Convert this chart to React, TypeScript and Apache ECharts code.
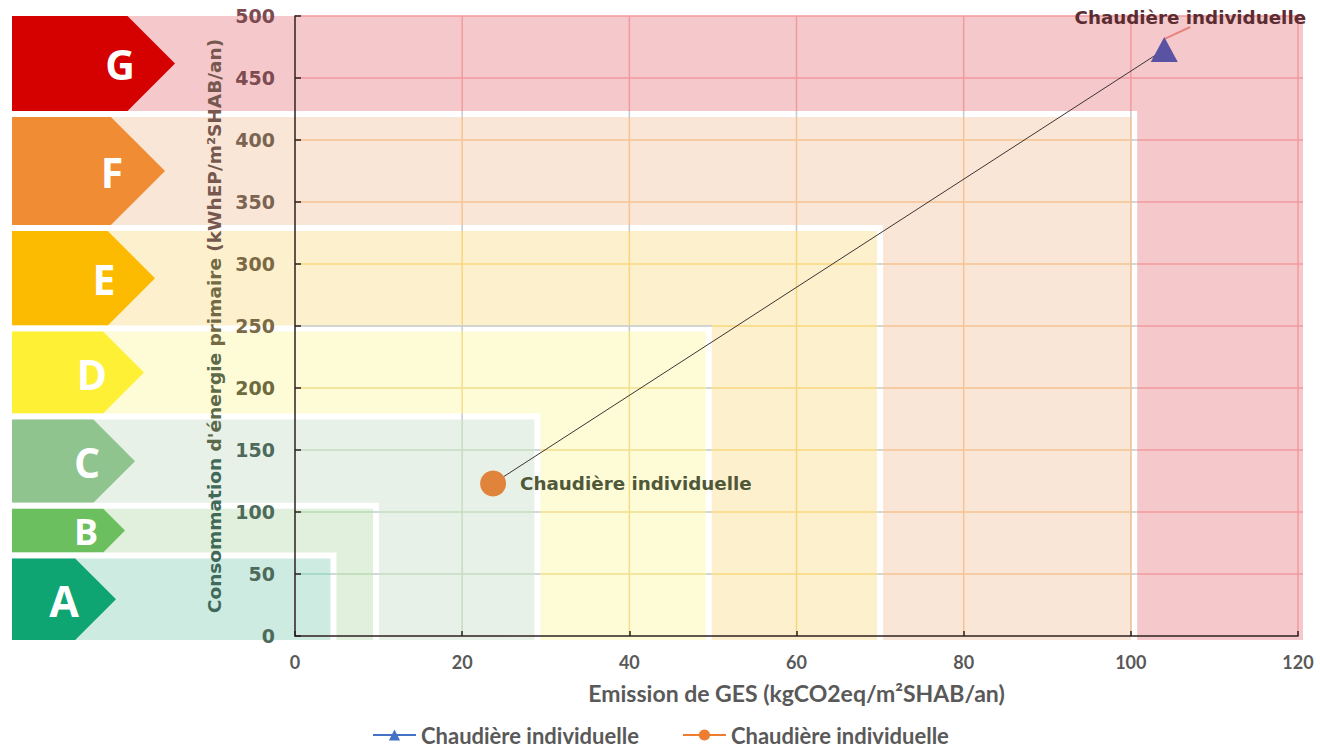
import React, { useEffect, useRef } from 'react';
import * as echarts from 'echarts';

// Energy classes, from the outermost (G) to the innermost (A)
const classLetters = ['G', 'F', 'E', 'D', 'C', 'B', 'A'];
// Upper bound of each class on the GES axis (kgCO2eq/m²SHAB/an)
const classGesMax = [120, 100.4, 70, 49.5, 29, 9.7, 4.6];
// Upper bound of each class on the energy axis (kWhEP/m²SHAB/an)
const classEnergyMax = [500, 421, 329, 248, 177, 105, 65];

const gesTicks = [0, 20, 40, 60, 80, 100, 120];
const energyTicks = [0, 50, 100, 150, 200, 250, 300, 350, 400, 450, 500];

const seriesNames = ['Chaudière individuelle', 'Chaudière individuelle'];
const pointGes = [104, 23.7];
const pointEnergy = [473, 123];

// Styling of the class bands
const arrowColors = ['#d50000', '#f08c34', '#fcbb00', '#fef035', '#8fc48e', '#6bbf5f', '#0fa572'];
const bandColors = ['#f5c9cb', '#fae6d6', '#fdf0cc', '#fefbd7', '#e8f1e7', '#e0f0dc', '#cdebe1'];
const gridColors = ['#f29a9e', '#f6c392', '#f7d77e', '#f1df8c', '#c6dcc2', '#b8dbb0', '#9ad5c2'];
const arrowTipPx = [175, 165, 155, 144, 135, 125, 116];
const letterXPx = [120, 112, 104, 92, 87, 86, 64];
const letterSize = [41, 41, 41, 41, 41, 36, 43];

const LEFT_PX = 12;
const BORDER = 3;
const OUTER_EXTRA = 5;
const BOTTOM_EXTRA = 4;
const BORDER_GRID = '#c3cacd';

const labelColorFor = (v: number) => {
  if (v >= 422) return '#7d4b51';
  if (v >= 329) return '#7b6452';
  if (v >= 248) return '#7b6946';
  if (v >= 177) return '#6c6a3e';
  return '#4d6a5b';
};

const hline = (x1: number, x2: number, y: number, stroke: string) => ({
  type: 'line',
  shape: { x1, y1: y, x2, y2: y },
  style: { stroke, lineWidth: 1.5 },
});
const vline = (x: number, y1: number, y2: number, stroke: string) => ({
  type: 'line',
  shape: { x1: x, y1, x2: x, y2 },
  style: { stroke, lineWidth: 1.5 },
});

const renderBand = (params: any, api: any) => {
  const i = params.dataIndex;
  const origin = api.coord([gesTicks[0], energyTicks[0]]);
  const x0 = origin[0];
  const y0 = origin[1];
  const right = api.coord([api.value(0), 0])[0];
  const top = api.coord([0, api.value(1)])[1];
  const outer = i === 0;
  const fillRight = outer ? right + OUTER_EXTRA : right - BORDER;
  const fillTop = outer ? top : top + BORDER;
  const bottom = y0 + BOTTOM_EXTRA;
  const bandBottom =
    i < classLetters.length - 1 ? api.coord([0, classEnergyMax[i + 1]])[1] - BORDER : bottom;

  const children: any[] = [];
  let z = i * 200;
  const add = (el: any) => {
    el.z2 = z++;
    children.push(el);
  };

  if (!outer) {
    add({
      type: 'rect',
      shape: { x: LEFT_PX, y: top - BORDER, width: right + BORDER - LEFT_PX, height: bottom - top + BORDER },
      style: { fill: '#ffffff' },
    });
    energyTicks.forEach((v) => {
      if (v === energyTicks[0]) return;
      const y = api.coord([0, v])[1];
      if (y >= top - BORDER - 0.5 && y < y0) add(hline(x0, right + BORDER, y, BORDER_GRID));
    });
    gesTicks.forEach((v) => {
      if (v === gesTicks[0]) return;
      const x = api.coord([v, 0])[0];
      if (x <= right + BORDER + 0.5) add(vline(x, top - BORDER, y0, BORDER_GRID));
    });
  }

  add({
    type: 'rect',
    shape: { x: LEFT_PX, y: fillTop, width: fillRight - LEFT_PX, height: bottom - fillTop },
    style: { fill: bandColors[i] },
  });
  energyTicks.forEach((v) => {
    if (v === energyTicks[0]) return;
    const y = api.coord([0, v])[1];
    if (y >= fillTop - 0.5 && y < y0) add(hline(x0, fillRight, y, gridColors[i]));
  });
  gesTicks.forEach((v) => {
    if (v === gesTicks[0]) return;
    const x = api.coord([v, 0])[0];
    if (x <= fillRight + 0.5) add(vline(x, fillTop, y0, gridColors[i]));
  });

  const h = bandBottom - fillTop;
  const mid = (fillTop + bandBottom) / 2;
  const tip = arrowTipPx[i];
  const rectEnd = tip - h / 2;
  add({
    type: 'polygon',
    shape: {
      points: [
        [LEFT_PX, fillTop],
        [rectEnd, fillTop],
        [tip, mid],
        [rectEnd, bandBottom],
        [LEFT_PX, bandBottom],
      ],
    },
    style: { fill: arrowColors[i] },
  });
  add({
    type: 'text',
    x: letterXPx[i],
    y: mid + 1,
    style: {
      text: classLetters[i],
      fill: '#ffffff',
      fontSize: letterSize[i],
      fontWeight: 'bold',
      fontFamily: '"Open Sans", sans-serif',
      align: 'center',
      verticalAlign: 'middle',
    },
  });

  return { type: 'group', children };
};

const nameFont = {
  fontFamily: '"DejaVu Sans", sans-serif',
  fontWeight: 'bold' as const,
  fontSize: 18.5,
};

export default function App() {
  const ref = useRef<HTMLDivElement>(null);

  useEffect(() => {
    if (!ref.current) return;
    const chart = echarts.init(ref.current, undefined, { renderer: 'svg' });

    const legendNames = seriesNames.map((n, k) => n + ' '.repeat(k));
    const axisColor = '#2e2020';

    chart.setOption({
      animation: false,
      backgroundColor: '#ffffff',
      grid: { left: 295, right: 22, top: 16, bottom: 112 },
      xAxis: {
        type: 'value',
        z: 3,
        min: gesTicks[0],
        max: gesTicks[gesTicks.length - 1],
        interval: gesTicks[1] - gesTicks[0],
        splitLine: { show: false },
        axisLine: { show: true, lineStyle: { color: axisColor, width: 1.5 } },
        axisTick: { show: true, inside: true, length: 5, lineStyle: { color: axisColor, width: 1.5 } },
        axisLabel: {
          margin: 17,
          color: '#595959',
          fontFamily: 'Lato, sans-serif',
          fontWeight: 'bold',
          fontSize: 18,
        },
        name: 'Emission de GES (kgCO2eq/m²SHAB/an)',
        nameLocation: 'middle',
        nameGap: 45,
        nameTextStyle: {
          color: '#595959',
          fontFamily: 'Lato, sans-serif',
          fontWeight: 'bold',
          fontSize: 23,
        },
      },
      yAxis: {
        type: 'value',
        z: 3,
        min: energyTicks[0],
        max: energyTicks[energyTicks.length - 1],
        interval: energyTicks[1] - energyTicks[0],
        splitLine: { show: false },
        axisLine: { show: true, lineStyle: { color: axisColor, width: 1.5 } },
        axisTick: { show: true, inside: true, length: 6, lineStyle: { color: axisColor, width: 1.5 } },
        axisLabel: {
          margin: 20,
          color: (v: any) => labelColorFor(Number(v)),
          fontFamily: '"DejaVu Sans", sans-serif',
          fontWeight: 'bold',
          fontSize: 19,
        },
        name: "{a|Consommation} {b|d'énergie} {c|primaire} {d|(kWhEP/m²SHAB/an)}",
        nameLocation: 'middle',
        nameGap: 70,
        nameTextStyle: {
          ...nameFont,
          rich: {
            a: { ...nameFont, color: '#40695a' },
            b: { ...nameFont, color: '#5c6a4a' },
            c: { ...nameFont, color: '#716a44' },
            d: { ...nameFont, color: '#76584f' },
          },
        },
      },
      legend: {
        left: 367,
        top: 719,
        padding: 5,
        itemWidth: 43,
        itemHeight: 14,
        itemGap: 43,
        formatter: (n: string) => n.trim(),
        textStyle: {
          color: '#595959',
          fontFamily: 'Lato, sans-serif',
          fontWeight: 'bold',
          fontSize: 22,
          lineHeight: 20,
        },
        data: [
          { name: legendNames[0], itemStyle: { color: '#4472c4' } },
          { name: legendNames[1], itemStyle: { color: '#ed7d31' } },
        ],
      },
      series: [
        {
          type: 'custom',
          name: 'classes',
          z: 1,
          clip: false,
          silent: true,
          renderItem: renderBand,
          data: classLetters.map((_, i) => [classGesMax[i], classEnergyMax[i]]),
        },
        {
          type: 'line',
          name: 'liaison',
          z: 3,
          silent: true,
          symbol: 'none',
          lineStyle: { color: '#3d3434', width: 1 },
          data: [
            [pointGes[1], pointEnergy[1]],
            [pointGes[0], pointEnergy[0]],
          ],
        },
        {
          type: 'line',
          name: legendNames[0],
          z: 4,
          symbol: 'triangle',
          symbolSize: [27, 25],
          itemStyle: { color: '#5a52a3' },
          lineStyle: { color: '#4472c4', width: 2 },
          data: [[pointGes[0], pointEnergy[0]]],
          label: {
            show: true,
            position: 'top',
            distance: 4,
            formatter: () => seriesNames[0],
            color: '#5b2d33',
            fontFamily: '"DejaVu Sans", sans-serif',
            fontWeight: 'bold',
            fontSize: 18.3,
          },
          labelLayout: { dx: 26, dy: -6 },
          labelLine: { show: true, lineStyle: { color: '#e8847e', width: 2 } },
        },
        {
          type: 'line',
          name: legendNames[1],
          z: 4,
          symbol: 'circle',
          symbolSize: 26,
          itemStyle: { color: '#e0843c' },
          lineStyle: { color: '#ed7d31', width: 2 },
          data: [[pointGes[1], pointEnergy[1]]],
          label: {
            show: true,
            position: 'right',
            distance: 14,
            formatter: () => seriesNames[1],
            color: '#4f5838',
            fontFamily: '"DejaVu Sans", sans-serif',
            fontWeight: 'bold',
            fontSize: 18.3,
          },
        },
      ],
    });

    return () => chart.dispose();
  }, []);

  return (
    <div
      ref={ref}
      style={{ position: 'fixed', left: 0, top: 0, width: 1320, height: 748, background: '#ffffff' }}
    />
  );
}
